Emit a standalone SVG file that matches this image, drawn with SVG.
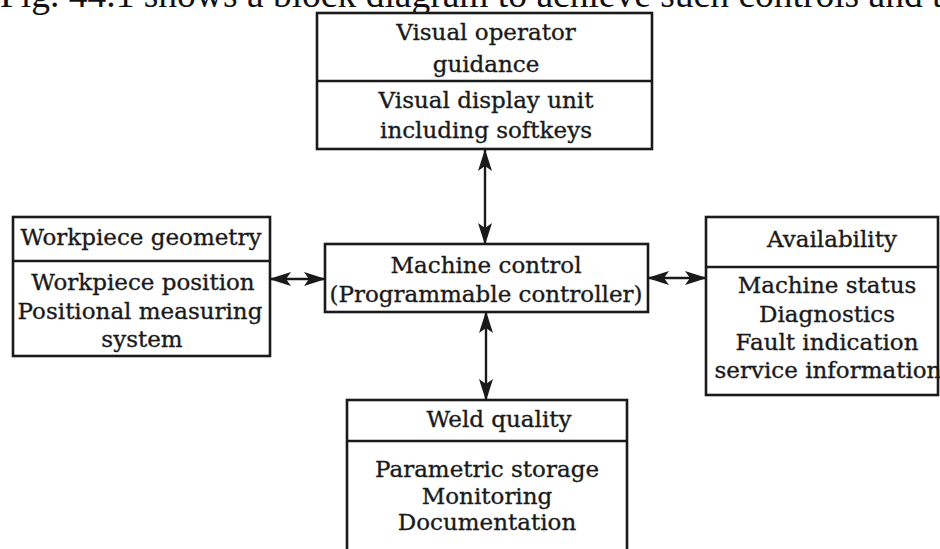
<svg xmlns="http://www.w3.org/2000/svg" width="940" height="549" viewBox="0 0 940 549">
<style>
.box{fill:#fff;stroke:#1a1a1a;stroke-width:2.6}
.div{stroke:#1a1a1a;stroke-width:2.6}
.t{font-family:"DejaVu Serif","Liberation Serif",serif;font-size:23px;fill:#1a1a1a;stroke:#1a1a1a;stroke-width:0.35;text-anchor:middle}
.con{stroke:#1a1a1a;stroke-width:2.4;fill:none;marker-start:url(#ah);marker-end:url(#ah)}
.cap{font-family:"Liberation Serif","Times New Roman",serif;font-size:37.5px;fill:#111}
</style>
<defs>
<marker id="ah" viewBox="0 0 22 14" refX="21" refY="7" markerWidth="22" markerHeight="14" markerUnits="userSpaceOnUse" orient="auto-start-reverse">
<path d="M0,0 L22,7 L0,14 L5,7 Z" fill="#1a1a1a"/>
</marker>
</defs>
<rect width="940" height="549" fill="#fff"/>
<text class="cap" x="0" y="7">Fig. 44.1 shows a block diagram to achieve such controls and t</text>
<g id="connectors">
<line class="con" x1="485" y1="150" x2="485" y2="244"/>
<line class="con" x1="486" y1="312" x2="486" y2="400"/>
<line class="con" x1="270" y1="279" x2="325" y2="279"/>
<line class="con" x1="648" y1="278" x2="706" y2="278"/>
</g>
<g id="visual">
<rect class="box" x="317" y="13" width="335" height="136"/>
<line class="div" x1="317" y1="81" x2="652" y2="81"/>
<text class="t" x="486" y="40">Visual operator</text>
<text class="t" x="486" y="72">guidance</text>
<text class="t" x="486" y="108">Visual display unit</text>
<text class="t" x="486" y="138">including softkeys</text>
</g>
<g id="machine">
<rect class="box" x="325" y="244" width="323" height="68"/>
<text class="t" x="486" y="273">Machine control</text>
<text class="t" x="486" y="302">(Programmable controller)</text>
</g>
<g id="workpiece">
<rect class="box" x="13" y="217" width="257" height="139"/>
<line class="div" x1="13" y1="261" x2="270" y2="261"/>
<text class="t" x="141" y="245">Workpiece geometry</text>
<text class="t" x="143" y="290">Workpiece position</text>
<text class="t" x="140" y="319">Positional measuring</text>
<text class="t" x="142" y="347">system</text>
</g>
<g id="availability">
<rect class="box" x="706" y="217" width="232" height="178"/>
<line class="div" x1="706" y1="267" x2="938" y2="267"/>
<text class="t" x="832" y="247">Availability</text>
<text class="t" x="827" y="293">Machine status</text>
<text class="t" x="827" y="322">Diagnostics</text>
<text class="t" x="827" y="350">Fault indication</text>
<text class="t" x="828" y="378">service information</text>
</g>
<g id="weld">
<rect class="box" x="347" y="400" width="280" height="170"/>
<line class="div" x1="347" y1="441" x2="627" y2="441"/>
<text class="t" x="499" y="427">Weld quality</text>
<text class="t" x="487" y="477">Parametric storage</text>
<text class="t" x="487" y="504">Monitoring</text>
<text class="t" x="487" y="530">Documentation</text>
</g>
</svg>
